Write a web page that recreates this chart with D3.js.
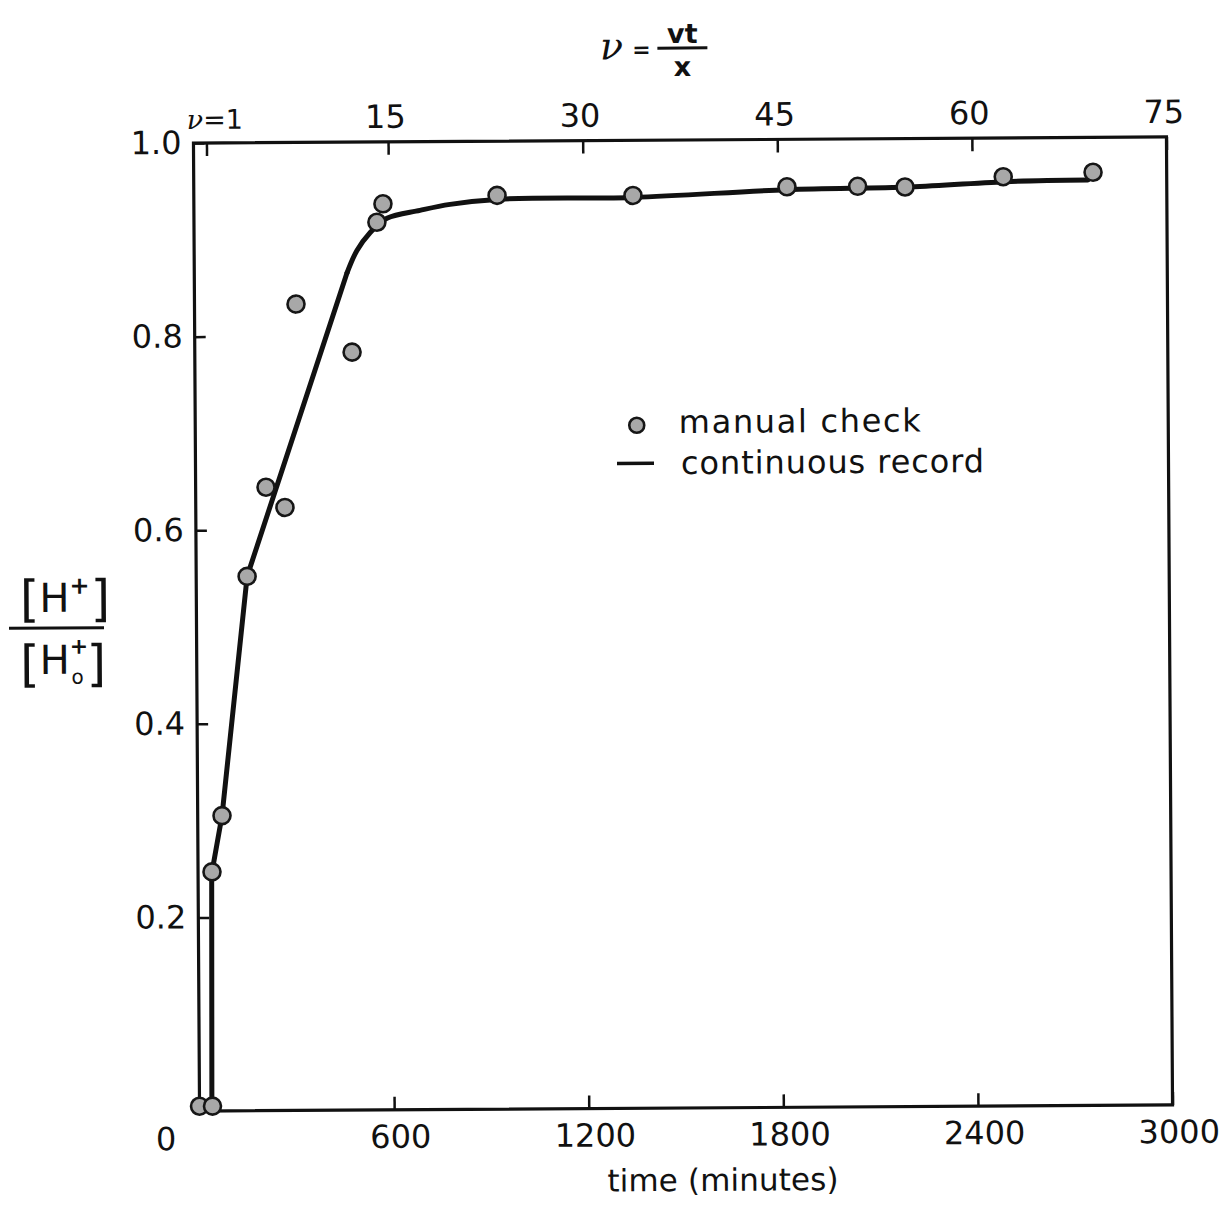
<!DOCTYPE html>
<html>
<head>
<meta charset="utf-8">
<script src="https://cdn.jsdelivr.net/npm/d3@7"></script>
<style>
  body { margin: 0; background: #fff; }
  svg { display: block; }
  text { font-family: "DejaVu Sans", sans-serif; fill: #111; }
</style>
</head>
<body>
<script>
// values
const manualTime  = [0, 40, 43, 75, 157, 217, 275, 313, 485, 564, 583, 935, 1354, 1829, 2047, 2193, 2496, 2773];
const manualRatio = [0.005, 0.005, 0.247, 0.305, 0.552, 0.644, 0.623, 0.833, 0.783, 0.917, 0.936, 0.944, 0.943, 0.951, 0.951, 0.950, 0.960, 0.964];

const recordTime  = [38, 42, 75, 157, 471, 502, 542, 595, 697, 790, 944, 1354, 1829, 2208, 2520, 2757];
const recordRatio = [0, 0.245, 0.305, 0.552, 0.865, 0.888, 0.906, 0.921, 0.929, 0.935, 0.940, 0.941, 0.948, 0.950, 0.955, 0.956];

const timeTicks  = [600, 1200, 1800, 2400, 3000];
const nuTicks    = [1, 15, 30, 45, 60, 75];
const ratioTicks = [0.2, 0.4, 0.6, 0.8, 1.0];

const W = 1229, H = 1209;
const box = { left: 196.5, top: 140, right: 1169.5, bottom: 1108 };

const svg = d3.select("body").append("svg")
  .attr("width", W).attr("height", H);

svg.append("rect").attr("width", W).attr("height", H).attr("fill", "#fff");

// the scan is turned a little, so the whole drawing is too
const g = svg.append("g").attr("transform", "rotate(-0.36 682 624)");

const x = d3.scaleLinear().domain([0, 3000]).range([box.left, box.right]);
const nu = d3.scaleLinear().domain([0, 75]).range([box.left, box.right]);
const y = d3.scaleLinear().domain([0, 1]).range([box.bottom, box.top]);

// frame
g.append("rect")
  .attr("x", box.left).attr("y", box.top)
  .attr("width", box.right - box.left).attr("height", box.bottom - box.top)
  .attr("fill", "none").attr("stroke", "#111").attr("stroke-width", 3.2);

function styleAxis(sel) {
  sel.select(".domain").remove();
  sel.selectAll(".tick line").attr("stroke", "#111").attr("stroke-width", 2.5);
  sel.selectAll(".tick text").attr("fill", "#111")
    .style("font-family", '"DejaVu Sans", sans-serif');
}

// bottom: time
const xAxis = g.append("g")
  .attr("transform", `translate(0,${box.bottom})`)
  .call(d3.axisBottom(x).tickValues(timeTicks).tickSize(-13).tickPadding(15).tickFormat(d3.format("d")));
styleAxis(xAxis);
xAxis.selectAll(".tick text").attr("font-size", 32).attr("dx", 6).attr("dy", null).attr("y", 38);

g.append("text").attr("x", 163).attr("y", 1147)
  .attr("text-anchor", "middle").attr("font-size", 32).text("0");

// top: nu = vt/x
const nuAxis = g.append("g")
  .attr("transform", `translate(0,${box.top})`)
  .call(d3.axisTop(nu).tickValues(nuTicks).tickSize(-13).tickPadding(14));
styleAxis(nuAxis);
nuAxis.selectAll(".tick text").attr("font-size", 32).attr("dx", -3);
nuAxis.selectAll(".tick text").filter(d => d === 1)
  .text(null)
  .attr("font-size", 27)
  .attr("dx", 8)
  .call(t => {
    t.append("tspan").attr("font-family", '"DejaVu Serif", serif').attr("font-style", "italic").text("ν");
    t.append("tspan").text("=1");
  });

// left: ratio
const yAxis = g.append("g")
  .attr("transform", `translate(${box.left},0)`)
  .call(d3.axisLeft(y).tickValues(ratioTicks).tickSize(-11).tickPadding(12).tickFormat(d3.format(".1f")));
styleAxis(yAxis);
yAxis.selectAll(".tick text").attr("font-size", 32);

// continuous record: straight rise, then a rounded bend into the plateau
const record = recordTime.map((t, i) => [t, recordRatio[i]]);
const bendAt = recordTime.indexOf(471);
const recLine = d3.line().x(d => x(d[0])).y(d => y(d[1]));
g.append("path")
  .datum(record.slice(0, bendAt + 1))
  .attr("d", recLine)
  .attr("fill", "none").attr("stroke", "#111")
  .attr("stroke-width", 5).attr("stroke-linejoin", "round").attr("stroke-linecap", "round");
g.append("path")
  .datum(record.slice(bendAt))
  .attr("d", recLine.curve(d3.curveCatmullRom.alpha(0.5)))
  .attr("fill", "none").attr("stroke", "#111")
  .attr("stroke-width", 5).attr("stroke-linejoin", "round").attr("stroke-linecap", "round");

// manual check points
const manual = manualTime.map((t, i) => [t, manualRatio[i]]);
g.append("g").selectAll("circle")
  .data(manual)
  .join("circle")
  .attr("cx", d => x(d[0])).attr("cy", d => y(d[1]))
  .attr("r", 8.5)
  .attr("fill", "#a8a8a8").attr("stroke", "#161616").attr("stroke-width", 2.6);

// legend
g.append("circle").attr("cx", 638).attr("cy", 425).attr("r", 7.5)
  .attr("fill", "#a8a8a8").attr("stroke", "#161616").attr("stroke-width", 2.6);
g.append("text").attr("x", 680).attr("y", 433).attr("font-size", 32)
  .attr("textLength", 242).attr("lengthAdjust", "spacing").text("manual check");
g.append("line").attr("x1", 618).attr("x2", 655).attr("y1", 463).attr("y2", 463)
  .attr("stroke", "#111").attr("stroke-width", 3.5);
g.append("text").attr("x", 682).attr("y", 474).attr("font-size", 32)
  .attr("textLength", 303).attr("lengthAdjust", "spacing").text("continuous record");

// x title
g.append("text").attr("x", 604).attr("y", 1191).attr("font-size", 31)
  .attr("textLength", 231).attr("lengthAdjust", "spacing").text("time (minutes)");

// top title: nu = vt / x
g.append("text").attr("x", 615).attr("y", 59).attr("text-anchor", "middle")
  .attr("font-size", 38).attr("font-style", "italic")
  .style("font-family", '"DejaVu Serif", serif').text("ν");
g.append("text").attr("x", 645).attr("y", 57).attr("text-anchor", "middle")
  .attr("font-size", 22).attr("font-weight", "bold").text("=");
g.append("text").attr("x", 686).attr("y", 43).attr("text-anchor", "middle")
  .attr("font-size", 27).attr("font-weight", "bold").text("vt");
g.append("line").attr("x1", 661).attr("x2", 711).attr("y1", 48).attr("y2", 48)
  .attr("stroke", "#111").attr("stroke-width", 3);
g.append("text").attr("x", 686).attr("y", 76).attr("text-anchor", "middle")
  .attr("font-size", 27).attr("font-weight", "bold").text("x");

// y title: [H+] / [H0+], each as one text with sized parts
const yt = g.append("g");
const upper = yt.append("text").attr("x", 20).attr("y", 612);
upper.append("tspan").attr("font-size", 50).text("[");
upper.append("tspan").attr("font-size", 40).attr("dy", -4).text("H");
upper.append("tspan").attr("font-size", 24).attr("font-weight", "bold").attr("dy", -18).text("+");
upper.append("tspan").attr("font-size", 50).attr("dy", 22).attr("dx", 1).text("]");

yt.append("line").attr("x1", 9).attr("x2", 104).attr("y1", 624).attr("y2", 624)
  .attr("stroke", "#111").attr("stroke-width", 3);

const lower = yt.append("text").attr("x", 20).attr("y", 677);
lower.append("tspan").attr("font-size", 50).text("[");
lower.append("tspan").attr("font-size", 40).attr("dy", -7).text("H");
lower.append("tspan").attr("font-size", 22).attr("font-weight", "bold").attr("dy", -20).text("+");
lower.append("tspan").attr("font-size", 20).attr("dx", -17).attr("dy", 30).text("o");
lower.append("tspan").attr("font-size", 50).attr("dy", -3).attr("dx", 3).text("]");
</script>
</body>
</html>
